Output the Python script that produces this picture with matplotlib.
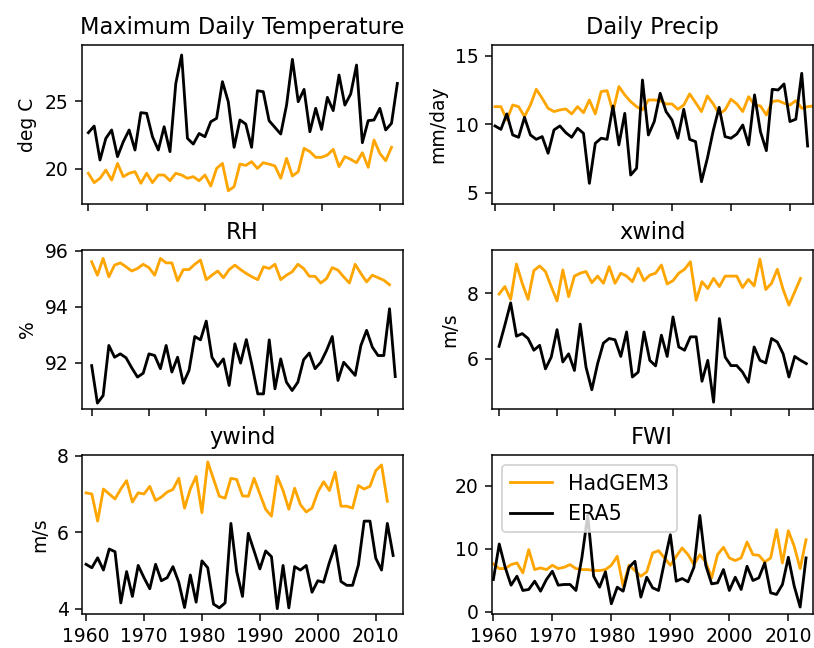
import numpy as np
import matplotlib
matplotlib.use("Agg")
import matplotlib.pyplot as plt

# ---- annual series: HadGEM3 model vs ERA5 reanalysis ----
temp_had = [19.66, 18.97, 19.29, 19.9, 19.16, 20.39, 19.41, 19.66, 19.78, 18.92,
            19.66, 18.97, 19.53, 19.53, 19.11, 19.66, 19.53, 19.29, 19.41, 19.11,
            19.53, 18.72, 20.02, 20.39, 18.37, 18.67, 20.34, 20.24, 20.52, 20.02,
            20.44, 20.34, 20.2, 19.29, 20.76, 19.46, 19.78, 21.5, 21.26, 20.84,
            20.84, 21.01, 21.43, 20.15, 20.89, 20.69, 20.44, 21.18, 20.1, 22.12,
            21.13, 20.59, 21.58]
temp_era = [22.66, 23.15, 20.64, 22.24, 22.86, 20.89, 22.0, 22.86, 21.38, 24.14,
            24.09, 22.36, 21.38, 23.1, 21.26, 26.3, 28.4, 22.24, 21.82, 22.6,
            22.36, 23.47, 23.72, 26.43, 24.95, 21.58, 23.6, 23.3, 21.58, 25.76,
            25.69, 23.55, 23.05, 22.56, 24.7, 28.08, 24.95, 25.86, 22.73, 24.46,
            22.9, 25.27, 24.29, 26.92, 24.7, 25.52, 27.66, 21.92, 23.55, 23.6,
            24.46, 22.86, 23.35, 26.3]

precip_had = [11.29, 11.29, 10.32, 11.41, 11.29, 10.56, 11.41, 12.56, 11.9, 11.17,
              10.93, 11.05, 11.12, 10.76, 11.29, 10.85, 11.78, 10.76, 12.39, 12.46,
              10.93, 12.76, 12.15, 11.66, 11.29, 11.05, 11.78, 11.78, 11.73, 11.49,
              11.49, 11.1, 11.41, 12.22, 11.59, 10.93, 12.07, 11.49, 10.76, 11.05,
              11.83, 11.49, 10.93, 12.02, 11.41, 11.34, 10.68, 11.66, 11.73, 11.54,
              11.41, 11.73, 11.17, 11.29, 11.34]
precip_era = [9.88, 9.63, 10.76, 9.22, 9.05, 10.51, 9.22, 8.9, 9.1, 7.88,
              9.59, 9.88, 9.39, 9.05, 9.71, 9.34, 5.68, 8.61, 8.98, 8.9,
              11.34, 8.49, 10.8, 6.29, 6.78, 13.24, 9.22, 10.2, 12.27, 10.93,
              10.32, 8.98, 11.1, 8.9, 8.73, 5.8, 7.51, 9.54, 11.24, 9.1,
              8.98, 9.29, 9.95, 8.49, 12.15, 9.46, 8.07, 12.56, 12.51, 12.95,
              10.2, 10.37, 13.73, 8.41]

rh_had = [95.61, 95.13, 95.73, 95.07, 95.49, 95.57, 95.43, 95.28, 95.37, 95.52,
          95.4, 95.13, 95.73, 95.57, 95.57, 94.93, 95.33, 95.33, 95.52, 95.67,
          94.97, 95.13, 95.28, 95.04, 95.33, 95.49, 95.33, 95.19, 95.07, 94.97,
          95.43, 95.37, 95.52, 94.97, 95.13, 95.25, 95.52, 95.37, 95.09, 95.09,
          94.85, 95.01, 95.4, 95.31, 95.07, 94.85, 95.52, 95.19, 94.89, 95.13,
          95.04, 94.95, 94.79]
rh_era = [91.9, 90.56, 90.83, 92.62, 92.2, 92.32, 92.18, 91.82, 91.49, 91.63,
          92.32, 92.26, 91.79, 92.62, 91.67, 92.2, 91.27, 91.73, 92.94, 92.82,
          93.49, 92.2, 91.87, 92.14, 91.19, 92.68, 91.99, 92.83, 91.9, 90.89,
          90.89, 92.82, 91.07, 92.14, 91.31, 91.01, 91.31, 92.11, 92.35, 91.79,
          92.02, 92.44, 92.94, 91.37, 92.02, 91.79, 91.55, 92.62, 93.16, 92.56,
          92.26, 92.26, 93.93, 91.51]

xwind_had = [7.98, 8.21, 7.82, 8.9, 8.31, 7.82, 8.7, 8.84, 8.67, 8.21,
             7.77, 8.72, 7.9, 8.53, 8.62, 8.67, 8.33, 8.53, 8.31, 8.82,
             8.31, 8.62, 8.53, 8.36, 8.77, 8.39, 8.56, 8.62, 8.87, 8.29,
             8.39, 8.62, 8.74, 8.97, 7.79, 8.36, 8.15, 8.46, 8.21, 8.53,
             8.53, 8.53, 8.18, 8.43, 8.23, 9.05, 8.12, 8.31, 8.74, 8.12,
             7.64, 8.05, 8.46]
xwind_era = [6.38, 7.03, 7.71, 6.69, 6.77, 6.62, 6.26, 6.41, 5.69, 6.05,
             6.89, 5.9, 6.15, 5.64, 7.06, 5.74, 5.05, 5.85, 6.48, 6.62,
             6.58, 6.07, 6.82, 5.44, 5.59, 6.82, 5.95, 5.78, 6.72, 6.07,
             7.28, 6.36, 6.26, 6.67, 6.67, 5.31, 5.95, 4.67, 7.23, 6.05,
             5.79, 5.79, 5.59, 5.28, 6.36, 5.95, 5.87, 6.62, 6.51, 6.15,
             5.44, 6.07, 5.95, 5.85]

ywind_had = [7.03, 7.0, 6.29, 7.13, 7.0, 6.87, 7.13, 7.35, 6.79, 7.03,
             7.0, 7.2, 6.83, 6.92, 7.05, 7.12, 7.41, 6.63, 7.13, 7.46,
             6.51, 7.84, 7.39, 6.94, 6.89, 7.41, 7.38, 6.95, 6.94, 7.41,
             7.0, 6.6, 6.42, 7.46, 7.09, 6.6, 7.15, 6.72, 6.53, 6.63,
             7.05, 7.32, 7.09, 7.57, 6.68, 6.68, 6.63, 7.22, 7.13, 7.2,
             7.61, 7.76, 6.81]
ywind_era = [5.16, 5.07, 5.33, 5.01, 5.56, 5.49, 4.15, 4.97, 4.32, 5.13,
             4.81, 4.52, 5.16, 4.73, 4.81, 5.1, 4.69, 4.03, 4.88, 4.17,
             5.25, 5.07, 4.12, 4.02, 4.15, 6.23, 4.97, 4.32, 5.97, 5.51,
             5.04, 5.51, 5.36, 4.0, 5.13, 4.02, 5.1, 5.01, 5.13, 4.43,
             4.73, 4.69, 5.21, 5.65, 4.71, 4.61, 4.61, 5.14, 6.29, 6.29,
             5.32, 5.01, 6.23, 5.39]

fwi_had = [7.58, 6.84, 6.84, 7.47, 7.74, 6.16, 9.84, 6.68, 6.95, 6.68,
           7.37, 6.84, 7.05, 7.47, 6.84, 6.68, 6.68, 6.53, 6.53, 6.68,
           7.37, 8.79, 4.05, 7.37, 6.53, 5.63, 6.32, 9.32, 9.68, 8.53,
           7.37, 8.79, 10.11, 9.05, 7.47, 9.05, 7.89, 5.37, 9.05, 10.21,
           8.53, 8.11, 8.53, 11.05, 9.05, 8.95, 7.89, 8.53, 13.0, 7.74,
           12.84, 10.37, 6.84, 11.42]
fwi_era = [5.11, 10.74, 7.05, 4.21, 5.63, 3.37, 3.53, 4.84, 3.26, 5.11,
           6.42, 4.21, 4.32, 4.32, 3.37, 8.53, 15.3, 5.63, 3.89, 6.32,
           1.26, 3.89, 3.26, 7.05, 8.0, 2.32, 5.47, 3.79, 3.37, 7.89,
           12.21, 4.84, 5.26, 4.74, 7.05, 15.26, 7.37, 4.42, 4.58, 6.68,
           3.37, 5.47, 3.53, 7.21, 4.95, 5.37, 7.74, 3.0, 2.74, 4.32,
           8.63, 4.05, 0.74, 8.53]

titles = ["Maximum Daily Temperature", "Daily Precip", "RH", "xwind", "ywind", "FWI"]
ylabels = ["deg C", "mm/day", "%", "m/s", "m/s", ""]
series = [(temp_had, temp_era), (precip_had, precip_era), (rh_had, rh_era),
          (xwind_had, xwind_era), (ywind_had, ywind_era), (fwi_had, fwi_era)]
yticks = [[20, 25], [5, 10, 15], [92, 94, 96], [6, 8], [4, 6, 8], [0, 10, 20]]
ylims = [(17.39, 29.14), (4.17, 15.8), (90.35, 96.03), (4.46, 9.33), (3.86, 8.02), (-0.36, 24.85)]
xlims = [(1958.86, 2013.92), (1959.44, 2013.86), (1958.26, 2014.3),
         (1958.73, 2014.1), (1959.25, 2014.65), (1959.72, 2014.13)]
xticks = [1960, 1970, 1980, 1990, 2000, 2010]
start_year = 1960

W, H = 814, 648
DPI = 135
fig = plt.figure(figsize=(W / DPI, H / DPI), dpi=DPI)

col_left = [81.7, 491.7]
col_width = 321.0
row_top = [45.0, 250.0, 455.0]
row_height = 159.0

for k in range(6):
    r, c = divmod(k, 2)
    ax = fig.add_axes([col_left[c] / W, 1 - (row_top[r] + row_height) / H,
                       col_width / W, row_height / H])
    had, era = series[k]
    yrs_had = start_year + np.arange(len(had))
    yrs_era = start_year + np.arange(len(era))
    ax.plot(yrs_had, had, color="orange", label="HadGEM3")
    ax.plot(yrs_era, era, color="black", label="ERA5")
    ax.set_title(titles[k])
    if ylabels[k]:
        ax.set_ylabel(ylabels[k])
    ax.set_yticks(yticks[k])
    ax.set_ylim(*ylims[k])
    ax.set_xticks(xticks)
    ax.set_xlim(*xlims[k])
    if r < 2:
        ax.tick_params(labelbottom=False)
    if k == 5:
        ax.legend(loc="upper left", fontsize=11)

fig.savefig("out.png", dpi=DPI)
